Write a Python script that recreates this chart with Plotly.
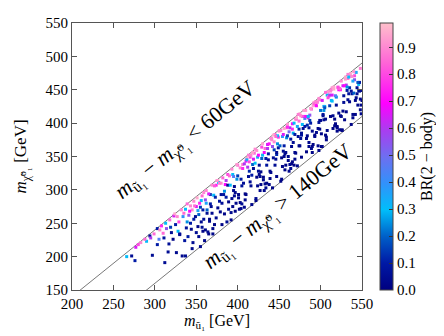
import plotly.graph_objects as go

# ---- data ----
stop_mass = [
    # 260-300
    266, 272, 276, 277, 283, 290, 294, 297, 299, 288, 295, 280,
    # 300-330
    303, 303, 310, 312, 316, 319, 323, 306, 308, 313, 318, 320, 322, 326, 327, 325, 311, 328, 314, 305, 317, 329, 324, 330,
    # 330-360
    333, 337, 330, 336, 337, 339, 341, 343, 345, 347, 349, 350, 352, 353, 355, 356, 357, 358, 359, 334, 338, 340, 342, 344,
    346, 348, 351, 353, 354, 356, 358, 359, 335, 339, 343, 347, 350, 352, 355, 357, 360, 345, 332,
    # 360-390
    362, 367, 361, 374, 369, 386, 378, 365, 382, 371, 389, 376, 363, 384, 370, 380, 366, 388, 373, 364, 381, 377, 368, 385,
    372, 390, 379, 362, 387, 375, 367, 383, 370, 389, 361, 378, 374, 386, 365, 381, 369, 388, 376, 363, 384, 372, 380, 366,
    # 390-420
    393, 407, 398, 415, 391, 402, 419, 396, 411, 404, 417, 394, 409, 400, 413, 392, 406, 418, 397, 410, 403, 416, 395, 408,
    399, 414, 401, 420, 405, 412, 392, 418, 396, 409, 403, 415, 399, 411, 394, 406, 417, 401, 413, 397, 408, 419, 393, 404,
    416, 400, 410, 395, 414, 405,
    # 420-450
    423, 437, 428, 445, 421, 432, 449, 426, 441, 434, 447, 424, 439, 430, 443, 422, 436, 448, 427, 440, 433, 446, 425, 438,
    429, 444, 431, 450, 435, 442, 422, 448, 426, 439, 433, 445, 429, 441, 424, 436, 447, 431, 443, 427, 438, 449, 423, 434,
    446, 430, 440, 425, 444, 435, 421, 437, 428, 442, 432, 447,
    # 450-480
    452, 467, 458, 475, 451, 462, 479, 456, 471, 464, 477, 454, 469, 460, 473, 453, 466, 478, 457, 470, 463, 476, 455, 468,
    459, 474, 461, 480, 465, 472, 452, 478, 456, 469, 463, 475, 459, 471, 454, 466, 477, 461, 473, 457, 468, 479, 453, 464,
    476, 460, 470, 455, 474, 465, 451, 467, 458, 472, 462, 477, 456, 469, 474, 460, 466,
    # 480-510
    483, 496, 488, 507, 481, 493, 509, 486, 502, 494, 505, 484, 499, 490, 504, 482, 497, 508, 487, 501, 492, 506, 485, 498,
    489, 503, 491, 510, 495, 500, 482, 508, 487, 499, 493, 506, 489, 502, 484, 497, 507, 491, 504, 486, 498, 509, 483, 494,
    505, 490, 501, 485, 503, 496, 481, 499, 488, 506, 492, 500, 486, 498, 504, 490, 495,
    # 510-550
    512, 528, 517, 536, 511, 523, 541, 515, 533, 546, 520, 531, 548, 514, 538, 526, 543, 519, 535, 513, 529, 547, 522, 539,
    516, 532, 550, 525, 544, 518, 537, 521, 534, 549, 527, 542, 514, 530, 545, 524, 540, 517, 533, 548, 511, 528, 543, 520,
    536, 513, 531, 546, 523, 539, 516, 535, 550, 526, 541, 519, 534, 547, 522, 538, 515, 529, 544, 525, 540, 512, 532, 549,
    521, 537, 518, 530, 545, 527, 542, 514, 533, 548, 524, 539, 520,
]
neutralino_mass = [
    # 260-300
    200, 201, 194, 214, 221, 223, 231, 202, 234, 226, 228, 218,
    # 300-330
    242, 218, 235, 191, 207, 244, 261, 240, 246, 250, 255, 236, 226, 206, 260, 248, 228, 238, 242, 226, 219, 252, 264, 233,
    # 330-360
    201, 201, 234, 224, 271, 279, 262, 250, 270, 283, 260, 275, 245, 230, 215, 284, 291, 270, 256, 260, 243, 230, 268, 241,
    221, 276, 288, 263, 280, 252, 238, 296, 265, 252, 276, 256, 236, 269, 274, 244, 224, 212, 270,
    # 360-390
    299, 279, 240, 307, 265, 314, 283, 234, 318, 292, 271, 314, 265, 298, 234, 310, 256, 323, 289, 237, 280, 311, 275, 308,
    248, 321, 267, 280, 252, 314, 293, 293, 242, 282, 285, 310, 258, 289, 294, 248, 307, 307, 273, 270, 264, 306, 293, 253,
    # 390-420
    331, 310, 280, 349, 307, 271, 346, 291, 347, 316, 278, 323, 294, 337, 320, 266, 338, 338, 296, 343, 281, 306, 320, 274,
    338, 328, 293, 355, 306, 334, 255, 356, 305, 285, 333, 312, 316, 345, 275, 332, 322, 288, 352, 268, 339, 332, 287, 272,
    352, 321, 293, 299, 342, 279,
    # 420-450
    359, 345, 308, 383, 340, 299, 379, 323, 375, 347, 320, 349, 328, 369, 348, 284, 368, 369, 320, 377, 309, 346, 352, 308,
    364, 360, 315, 388, 337, 365, 287, 381, 337, 317, 362, 337, 347, 377, 306, 362, 353, 319, 382, 299, 369, 363, 319, 303,
    380, 352, 326, 328, 372, 310, 361, 354, 327, 303, 356, 356,
    # 450-480
    389, 371, 337, 414, 366, 328, 410, 350, 406, 376, 349, 380, 356, 398, 380, 316, 399, 398, 354, 406, 338, 377, 383, 337,
    393, 391, 344, 419, 365, 395, 313, 410, 366, 346, 393, 366, 378, 408, 335, 391, 382, 350, 413, 330, 400, 392, 348, 332,
    411, 381, 355, 358, 403, 339, 389, 385, 356, 336, 387, 385, 392, 383, 366, 394, 342,
    # 480-510
    377, 431, 400, 379, 407, 380, 447, 393, 365, 427, 425, 381, 435, 365, 405, 410, 366, 442, 404, 384, 431, 406, 408, 359,
    421, 413, 368, 440, 386, 419, 419, 389, 412, 404, 382, 446, 362, 434, 397, 392, 375, 426, 425, 371, 401, 438, 357, 432,
    423, 388, 365, 410, 411, 432, 395, 391, 422, 382, 429, 404, 365, 437, 419, 356, 426,
    # 510-550
    448, 431, 396, 474, 426, 390, 471, 411, 467, 458, 393, 457, 436, 453, 444, 389, 476, 439, 432, 450, 405, 448, 450, 408,
    451, 449, 434, 463, 444, 441, 398, 453, 444, 427, 456, 434, 433, 466, 427, 450, 445, 406, 473, 420, 442, 441, 438, 388,
    470, 434, 417, 449, 452, 413, 454, 453, 449, 390, 465, 427, 469, 461, 415, 470, 392, 456, 453, 410, 477, 410, 454, 414,
    454, 448, 399, 469, 461, 418, 413, 442, 435, 482, 411, 463, 395,
]
branching_ratio = [
    # 260-300
    .30, .05, .10, .65, .90, .30, .05, .05, .85, .85, .60, .80,
    # 300-330
    .10, .10, .85, .05, .05, .15, .65, .90, .75, .30, .85, .05, .02, .04, .90, .10, .08, .30, .55, .45, .06, .80, .95, .05,
    # 330-360
    .03, .05, .05, .08, .30, .85, .55, .10, .90, .90, .05, .65, .02, .04, .03, .30, .85, .10, .06, .40, .07, .10, .70, .03,
    .05, .85, .95, .20, .75, .04, .02, .90, .85, .25, .90, .10, .05, .35, .15, .05, .03, .04, .90,
    # 360-390
    .90, .10, .03, .75, .04, .60, .08, .02, .85, .30, .05, .95, .05, .25, .03, .90, .02, .80, .12, .04, .06, .30, .04, .70,
    .02, .85, .03, .35, .05, .92, .15, .08, .03, .02, .55, .88, .04, .10, .65, .02, .90, .05, .03, .20, .02, .82, .06, .03,
    # 390-420
    .90, .06, .03, .80, .30, .02, .65, .04, .95, .10, .03, .30, .02, .85, .05, .04, .88, .20, .03, .70, .02, .05, .45, .03,
    .92, .12, .02, .85, .07, .60, .02, .95, .04, .03, .90, .05, .25, .35, .02, .75, .10, .03, .88, .02, .60, .05, .04, .03,
    .90, .15, .02, .04, .80, .05,
    # 420-450
    .92, .05, .02, .85, .30, .03, .75, .04, .90, .10, .02, .35, .03, .95, .06, .02, .65, .25, .04, .88, .03, .05, .70, .02,
    .80, .15, .03, .93, .08, .55, .04, .30, .06, .02, .85, .05, .20, .90, .03, .60, .12, .02, .96, .03, .72, .08, .02, .04,
    .85, .32, .03, .05, .90, .02, .90, .10, .03, .02, .68, .04,
    # 450-480
    .90, .05, .02, .95, .20, .03, .80, .04, .88, .08, .02, .40, .03, .92, .05, .02, .70, .30, .03, .85, .04, .06, .65, .02,
    .90, .12, .03, .93, .04, .35, .02, .82, .10, .03, .60, .04, .25, .95, .02, .75, .08, .03, .88, .02, .30, .05, .02, .04,
    .90, .15, .03, .05, .85, .02, .90, .28, .04, .03, .50, .06, .95, .10, .03, .75, .02,
    # 480-510
    .03, .90, .10, .02, .45, .04, .92, .06, .02, .75, .30, .03, .88, .02, .05, .70, .03, .30, .15, .02, .95, .04, .60, .03,
    .85, .08, .02, .90, .04, .22, .93, .03, .55, .05, .02, .85, .04, .65, .12, .03, .02, .95, .35, .03, .07, .80, .02, .90,
    .18, .04, .02, .30, .05, .88, .10, .03, .92, .02, .85, .04, .03, .90, .25, .02, .70,
    # 510-550
    .90, .05, .02, .95, .15, .03, .80, .04, .85, .30, .02, .60, .03, .92, .06, .02, .35, .25, .03, .88, .02, .05, .70, .03,
    .95, .10, .02, .90, .04, .45, .02, .85, .08, .03, .65, .02, .30, .93, .03, .75, .20, .02, .88, .03, .60, .07, .03, .02,
    .90, .30, .02, .05, .85, .03, .95, .12, .04, .02, .55, .05, .30, .10, .03, .90, .02, .70, .04, .03, .92, .02, .25, .03,
    .80, .06, .02, .95, .18, .03, .02, .65, .05, .88, .03, .35, .02,
]
assert len(stop_mass) == len(neutralino_mass) == len(branching_ratio)

mass_splitting_cuts = [60, 140]
x_ticks = [200, 250, 300, 350, 400, 450, 500, 550]
y_ticks = [150, 200, 250, 300, 350, 400, 450, 500, 550]
cbar_ticks = [0.0, 0.1, 0.2, 0.3, 0.4, 0.5, 0.6, 0.7, 0.8, 0.9]

FONT = "Liberation Serif, DejaVu Serif, serif"

colorscale = [
    [0.00, "rgb(0,0,128)"],
    [0.10, "rgb(0,25,165)"],
    [0.20, "rgb(0,95,200)"],
    [0.30, "rgb(0,190,250)"],
    [0.40, "rgb(50,145,250)"],
    [0.50, "rgb(110,110,240)"],
    [0.60, "rgb(170,60,240)"],
    [0.70, "rgb(255,0,255)"],
    [0.85, "rgb(255,100,215)"],
    [1.00, "rgb(255,192,203)"],
]

fig = go.Figure()

# boundary lines  m_neutralino = m_stop - cut
line_x = [x_ticks[0], x_ticks[-1]]
for cut in mass_splitting_cuts:
    fig.add_trace(go.Scatter(
        x=line_x, y=[v - cut for v in line_x], mode="lines",
        line=dict(color="#555555", width=0.8), showlegend=False, hoverinfo="skip"))

fig.add_trace(go.Scatter(
    x=stop_mass, y=neutralino_mass, mode="markers",
    marker=dict(
        symbol="square", size=3, color=branching_ratio,
        colorscale=colorscale, cmin=0, cmax=0.99, line=dict(width=0),
        colorbar=dict(
            x=1.062, xanchor="left", y=0.5, yanchor="middle", len=1.0,
            xpad=0, ypad=0,
            thickness=13, outlinewidth=1, outlinecolor="#444444",
            tickvals=cbar_ticks, ticktext=[f"{t:.1f}" for t in cbar_ticks],
            ticks="inside", ticklen=4, tickcolor="#333333",
            tickfont=dict(family=FONT, size=15, color="black"),
            title=dict(text="BR(2 − body)", side="right",
                       font=dict(family=FONT, size=16, color="black")),
        ),
    ),
    showlegend=False))

axis_common = dict(
    showgrid=False, zeroline=False, showline=True, linecolor="#555555", linewidth=1,
    mirror="ticks", ticks="inside", ticklen=5, tickcolor="#555555",
    tickfont=dict(family=FONT, size=15, color="black"),
)
fig.update_xaxes(range=[200, 550], tickvals=x_ticks, **axis_common,
                 title=dict(text="<i>m</i><sub>ũ₁</sub> [GeV]", standoff=2,
                            font=dict(family=FONT, size=16, color="black")))
fig.update_yaxes(range=[150, 550], tickvals=y_ticks, **axis_common,
                 title=dict(text="<i>m</i><sub>χ̃⁰₁</sub> [GeV]", standoff=14,
                            font=dict(family=FONT, size=17, color="black")))

label_font = dict(family=FONT, size=22, color="black")
fig.add_annotation(x=338, y=374, xref="x", yref="y", showarrow=False, textangle=-39,
                   text="<i>m</i><sub>ũ₁</sub> − <i>m</i><sub>χ̃⁰₁</sub> &lt; 60GeV", font=label_font)
fig.add_annotation(x=449, y=274, xref="x", yref="y", showarrow=False, textangle=-39,
                   text="<i>m</i><sub>ũ₁</sub> − <i>m</i><sub>χ̃⁰₁</sub> &gt; 140GeV", font=label_font)

fig.update_layout(
    width=444, height=336,
    margin=dict(l=64, r=90, t=15, b=54, autoexpand=False),
    paper_bgcolor="white", plot_bgcolor="white",
)

fig.write_html("out.html")
